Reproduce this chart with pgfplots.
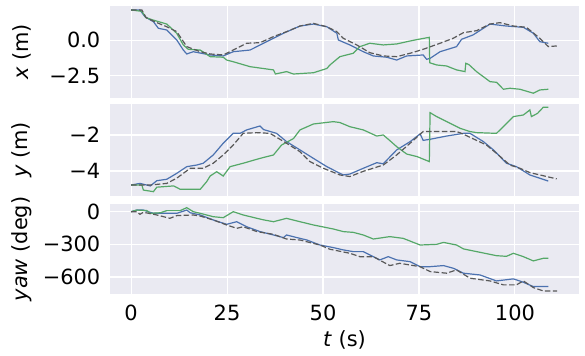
\documentclass[border=0pt]{standalone}
\usepackage{fontspec}
\setmainfont{DejaVu Sans}
\usepackage{pgfplots}
\pgfplotsset{compat=1.18}

\definecolor{sbbg}{HTML}{EAEAF2}
\definecolor{sbblue}{HTML}{4C72B0}
\definecolor{sbgreen}{HTML}{55A868}
\definecolor{gtgray}{HTML}{595959}

\pgfplotsset{
  panel/.style={
    scale only axis, width=469bp, height=92bp, anchor=south west,
    xmin=-5.5, xmax=116.7,
    xtick={0,25,50,75,100},
    axis background/.style={fill=sbbg},
    axis line style={draw=none},
    major tick length=0pt,
    grid=major, grid style={white, line width=1.1bp},
    font=\fontsize{21}{25}\selectfont,
    /pgf/number format/assume math mode=true,
    yticklabel style={inner sep=0pt, xshift=-9.5bp},
    xticklabel style={inner sep=0pt, yshift=-11bp},
    ylabel style={at={(axis description cs:-0.1876,0.5)}, anchor=center, rotate=0},
    clip=true,
  },
  est/.style={sbblue, line width=1.2bp},
  alt/.style={sbgreen, line width=1.2bp},
  gt/.style={gtgray, line width=1.2bp, dash pattern=on 5.5bp off 2.4bp},
}

\begin{document}
\begin{tikzpicture}
\path[use as bounding box] (0,0) rectangle (585bp,356bp);

% x position
\begin{axis}[panel, at={(110bp,258bp)}, ymin=-4.09, ymax=2.43,
  ytick={-2.5,0}, yticklabels={−2.5,0.0}, xticklabels={},
  ylabel={\textit{x} (m)}]
\addplot[est] coordinates {(0,2.15)(2.3,2.15)(3.6,1.67)(5.8,1.32)(7.1,0.85)(9.3,0.73)(11.9,0.02)(13.6,-0.69)(14.5,-0.97)(16.2,-0.81)(20.6,-1.04)(24,-1.11)(26.6,-0.81)(31,-0.69)(35.3,-0.1)(39.7,0.5)(44,1.01)(47.5,1.15)(51,0.96)(53.6,0.5)(54,0.02)(57,-0.33)(60.5,-0.81)(63.1,-1.11)(66.6,-1.2)(69.2,-1.4)(71.8,-1.11)(76.1,-1.04)(77,-1.35)(77.9,-1.28)(80.5,-0.81)(84.8,-0.45)(86.1,0.07)(89.1,0.38)(93.5,1.15)(97.8,1.01)(102.2,0.92)(104.8,0.5)(106.5,-0.1)(108.7,-0.21)};
\addplot[alt] coordinates {(0,2.15)(2.8,2.05)(3.9,1.6)(5.8,1.43)(9.3,1.15)(11.9,0.49)(13.6,-0.33)(14.9,-0.64)(18,-0.69)(20.6,-1.16)(24,-1.2)(24.9,-1.4)(26.6,-1.52)(31,-1.87)(37.1,-2.1)(37.6,-2.39)(40.5,-2.22)(42.3,-2.39)(47.5,-2.3)(51,-2.0)(51.8,-1.75)(54.4,-1.16)(57.9,-0.92)(59.6,-0.45)(62.2,-0.21)(65.7,-0.33)(69.2,-0.26)(72.7,-0.05)(74.5,0.05)(77.7,0.21)(77.8,-1.59)(79.6,-1.75)(82.2,-1.82)(84.8,-2.1)(87,-2.22)(87.2,-1.63)(88,-1.72)(90,-2.22)(93.5,-2.93)(95.2,-2.98)(97,-3.47)(98.7,-3.4)(101.3,-3.47)(104.8,-3.75)(106.5,-3.52)(108.7,-3.47)};
\addplot[gt] coordinates {(0,2.15)(2.8,2.15)(3.9,1.6)(6.7,1.25)(9.3,0.96)(11.9,0.61)(14.5,-0.45)(18,-0.81)(20.6,-0.97)(24,-1.04)(26.6,-0.69)(30.1,-0.21)(33.6,-0.17)(37.1,0.26)(40.5,0.61)(44,1.01)(47.5,1.2)(51,0.96)(53.6,0.61)(55.3,0.14)(58.8,-0.33)(62.2,-0.88)(65.7,-1.11)(69.2,-1.16)(72.7,-0.92)(76.1,-0.64)(80.5,-0.21)(83.9,0.14)(86.6,0.54)(90,0.68)(93.5,1.15)(96.1,1.25)(99.6,1.01)(103,0.92)(106.5,0.14)(108.7,-0.45)(110.9,-0.4)};
\end{axis}

% y position
\begin{axis}[panel, at={(110bp,160bp)}, ymin=-5.39, ymax=-0.28,
  ytick={-4,-2}, yticklabels={−4,−2}, xticklabels={},
  ylabel={\textit{y} (m)}]
\addplot[est] coordinates {(0,-4.78)(2.3,-4.69)(5,-4.83)(6.7,-4.54)(9.3,-4.46)(11.9,-4.13)(14.5,-3.76)(17.1,-3.67)(18.8,-3.57)(21.4,-3.11)(24,-2.46)(26.6,-1.91)(28.4,-1.91)(30.1,-1.72)(33.6,-1.5)(34.5,-1.7)(37.9,-1.91)(40.5,-2.37)(44,-2.83)(47.5,-3.3)(51,-3.76)(54.4,-4.13)(55.3,-4.22)(57,-4.17)(60.5,-3.85)(64,-3.54)(65.7,-3.6)(69.2,-2.83)(72.7,-2.37)(75.3,-1.94)(76.1,-2.3)(77.9,-2.24)(82.2,-2.06)(86.6,-1.91)(88.3,-1.91)(91.8,-2.37)(94.4,-2.83)(97.8,-3.57)(100.4,-3.76)(103.9,-4.22)(108.7,-4.56)};
\addplot[alt] coordinates {(0,-4.78)(2.8,-4.78)(3.2,-5.06)(5.8,-5.15)(6.7,-4.9)(11.1,-4.83)(12.8,-5.02)(18,-5.02)(19.7,-4.59)(20.6,-4.28)(22.3,-4.04)(24,-4.28)(25.8,-3.76)(29.2,-3.57)(33.6,-3.3)(37.1,-3.11)(39.2,-2.56)(42.3,-2.2)(44,-1.72)(47.5,-1.39)(52.7,-1.26)(54.4,-1.31)(57,-1.54)(60.5,-1.72)(64,-2.06)(65.7,-2.0)(67.4,-2.31)(69.2,-2.65)(71.8,-3.06)(74.5,-3.2)(77.7,-3.48)(77.9,-0.76)(79.6,-0.98)(83.1,-1.35)(85.7,-1.63)(88.3,-1.81)(90,-1.87)(95.2,-1.91)(97,-1.54)(99.6,-0.98)(102.2,-0.89)(103.9,-0.61)(104.3,-0.98)(105.9,-0.8)(107.4,-0.46)(108.7,-0.46)};
\addplot[gt] coordinates {(0,-4.78)(5,-4.78)(9.3,-4.69)(11.9,-4.4)(15.4,-3.85)(18.8,-3.85)(21.4,-3.57)(24,-3.11)(26.6,-2.56)(29.2,-1.91)(32.7,-1.87)(36.2,-1.91)(40.5,-2.46)(44,-2.93)(46.6,-3.48)(50.1,-3.85)(54.4,-4.22)(57,-4.31)(60.5,-4.02)(65.7,-3.67)(69.2,-3.11)(72.7,-2.46)(76.1,-1.81)(80.5,-1.81)(84.8,-1.81)(86.1,-1.91)(92.6,-2.56)(95.2,-3.02)(98.7,-3.67)(101.3,-3.85)(103.9,-4.09)(110.9,-4.44)};
\end{axis}

% yaw
\begin{axis}[panel, at={(110bp,62bp)}, height=90bp, ymin=-756, ymax=70.6,
  ytick={-600,-300,0}, yticklabels={−600,−300,0},
  ylabel={\textit{yaw} (deg)},
  xlabel={\textit{t} (s)},
  xlabel style={at={(axis description cs:0.5,-0.511)}, anchor=center}]
\addplot[est] coordinates {(0,0)(1.5,15)(3.2,15)(5.8,-15)(9.3,-15)(11.9,-15)(14.5,15)(15.4,-10)(18,-30)(21.4,-76)(24.9,-116)(27.5,-92)(30.1,-138)(33.6,-183)(37.1,-214)(39.7,-238)(40.5,-214)(43.2,-238)(45.8,-260)(49.2,-306)(52.7,-330)(55.3,-351)(57.9,-367)(60.5,-367)(64.8,-443)(67,-413)(69.2,-443)(72.7,-459)(75.3,-505)(77.9,-505)(81.4,-495)(84,-520)(86.6,-565)(90.9,-581)(95.2,-636)(99.6,-617)(102.2,-648)(104.8,-688)(108.7,-688)};
\addplot[alt] coordinates {(0,0)(1.5,15)(4.1,10)(5,-15)(7.6,-10)(9.3,10)(12.8,10)(14.5,37)(16.2,0)(18,-15)(21.4,-46)(24,-55)(26.6,0)(29.2,-30)(32.8,-61)(34.5,-75)(37.1,-92)(40.5,-61)(44,-92)(47.5,-122)(52.7,-159)(55.3,-183)(57.9,-190)(60.5,-214)(63.1,-251)(67.4,-229)(70.9,-245)(75.3,-306)(79.6,-300)(81.4,-282)(84.8,-306)(86.6,-342)(90.9,-373)(95.2,-404)(97.8,-410)(99.6,-382)(102.2,-413)(104.8,-452)(107.4,-428)(108.7,-428)};
\addplot[gt] coordinates {(0,0)(1.5,0)(2.3,-24)(3.2,-5)(6.7,-30)(10.1,-61)(11.9,-36)(16.2,-30)(18,-40)(21.4,-76)(24.9,-122)(27.5,-153)(29.2,-138)(32.8,-183)(37.1,-208)(40.5,-251)(44,-260)(49.2,-306)(51.8,-345)(57,-382)(59.6,-413)(63.1,-413)(67.4,-495)(70,-474)(75.3,-505)(77.9,-550)(82.2,-565)(84.8,-535)(88.3,-611)(93.5,-636)(97,-672)(100.4,-672)(102.2,-636)(104.8,-697)(107.4,-728)(111,-728)};
\end{axis}
\end{tikzpicture}
\end{document}
